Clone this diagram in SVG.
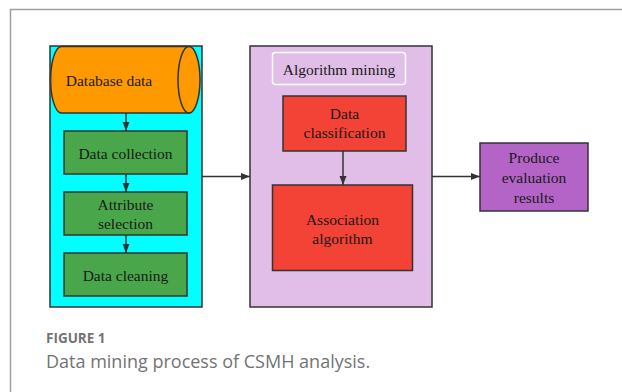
<svg xmlns="http://www.w3.org/2000/svg" width="622" height="392" viewBox="0 0 622 392">
  <defs>
    <marker id="arrow" markerWidth="10" markerHeight="10" refX="9" refY="5" orient="auto" markerUnits="userSpaceOnUse">
      <path d="M0,1.5 L9,5 L0,8.5 Z" fill="#333"/>
    </marker>
    <style>
      .lbl { font-family: "Liberation Serif", "Times New Roman", serif; font-size: 15.5px; fill: #1a1a1a; text-anchor: middle; dominant-baseline: central; }
      .box { stroke: #333; stroke-width: 1.5; }
      .green { fill: #4aa64a; }
      .red { fill: #f34236; }
      .edge { stroke: #333; stroke-width: 1.5; fill: none; marker-end: url(#arrow); }
    </style>
  </defs>
  <rect x="0" y="0" width="622" height="392" fill="#fff"/>
  <!-- outer figure frame -->
  <path d="M10.5,400 L10.5,9.5 L630,9.5" fill="none" stroke="#a0a0a0" stroke-width="1.5"/>

  <!-- data preparation panel -->
  <g id="prep-panel">
    <rect class="box" x="50" y="46" width="152" height="261" fill="#00ffff"/>
  </g>
  <g id="database">
    <path class="box" d="M61,46.5 L189,46.5 A11,33.3 0 0 1 189,113 L61,113 A11,33.3 0 0 1 61,46.5 Z" fill="#ff9900"/>
    <ellipse class="box" cx="189" cy="79.8" rx="11" ry="33.3" fill="#ff9900"/>
    <text class="lbl" x="109" y="80">Database data</text>
  </g>
  <g id="collection">
    <rect class="box green" x="64" y="131" width="123" height="43"/>
    <text class="lbl" x="125.5" y="153">Data collection</text>
  </g>
  <g id="attribute">
    <rect class="box green" x="64" y="192" width="123" height="43"/>
    <text class="lbl" x="125.5" y="204">Attribute</text>
    <text class="lbl" x="125.5" y="223">selection</text>
  </g>
  <g id="cleaning">
    <rect class="box green" x="64" y="253" width="123" height="43"/>
    <text class="lbl" x="125.5" y="275">Data cleaning</text>
  </g>

  <!-- algorithm mining panel -->
  <g id="mining-panel">
    <rect class="box" x="250" y="46" width="182" height="261" fill="#e1bee7"/>
    <rect x="272.5" y="52.5" width="133" height="32" rx="3" fill="none" stroke="#ffffff" stroke-width="1.5"/>
    <text class="lbl" x="339" y="69">Algorithm mining</text>
  </g>
  <g id="classification">
    <rect class="box red" x="283" y="96" width="123" height="55"/>
    <text class="lbl" x="344.5" y="113">Data</text>
    <text class="lbl" x="344.5" y="132">classification</text>
  </g>
  <g id="association">
    <rect class="box red" x="272.5" y="185" width="140" height="85.5"/>
    <text class="lbl" x="342.5" y="219">Association</text>
    <text class="lbl" x="342.5" y="238">algorithm</text>
  </g>

  <g id="results">
    <rect class="box" x="480" y="143" width="108" height="68" fill="#b463c6"/>
    <text class="lbl" x="534" y="157">Produce</text>
    <text class="lbl" x="534" y="177">evaluation</text>
    <text class="lbl" x="534" y="197">results</text>
  </g>

  <g id="connectors">
    <line class="edge" x1="126" y1="113" x2="126" y2="131"/>
    <line class="edge" x1="126" y1="174" x2="126" y2="192"/>
    <line class="edge" x1="126" y1="235" x2="126" y2="253"/>
    <line class="edge" x1="343" y1="151" x2="343" y2="185"/>
    <line class="edge" x1="202" y1="176.5" x2="250" y2="176.5"/>
    <line class="edge" x1="432" y1="176.5" x2="480" y2="176.5"/>
  </g>

  <!-- caption -->
  <g id="caption" font-family="'Open Sans', Lato, sans-serif" fill="#737373">
    <text x="46" y="343" font-size="13.5" font-weight="bold">FIGURE 1</text>
    <text x="46" y="368" font-size="18">Data mining process of CSMH analysis.</text>
  </g>
</svg>
